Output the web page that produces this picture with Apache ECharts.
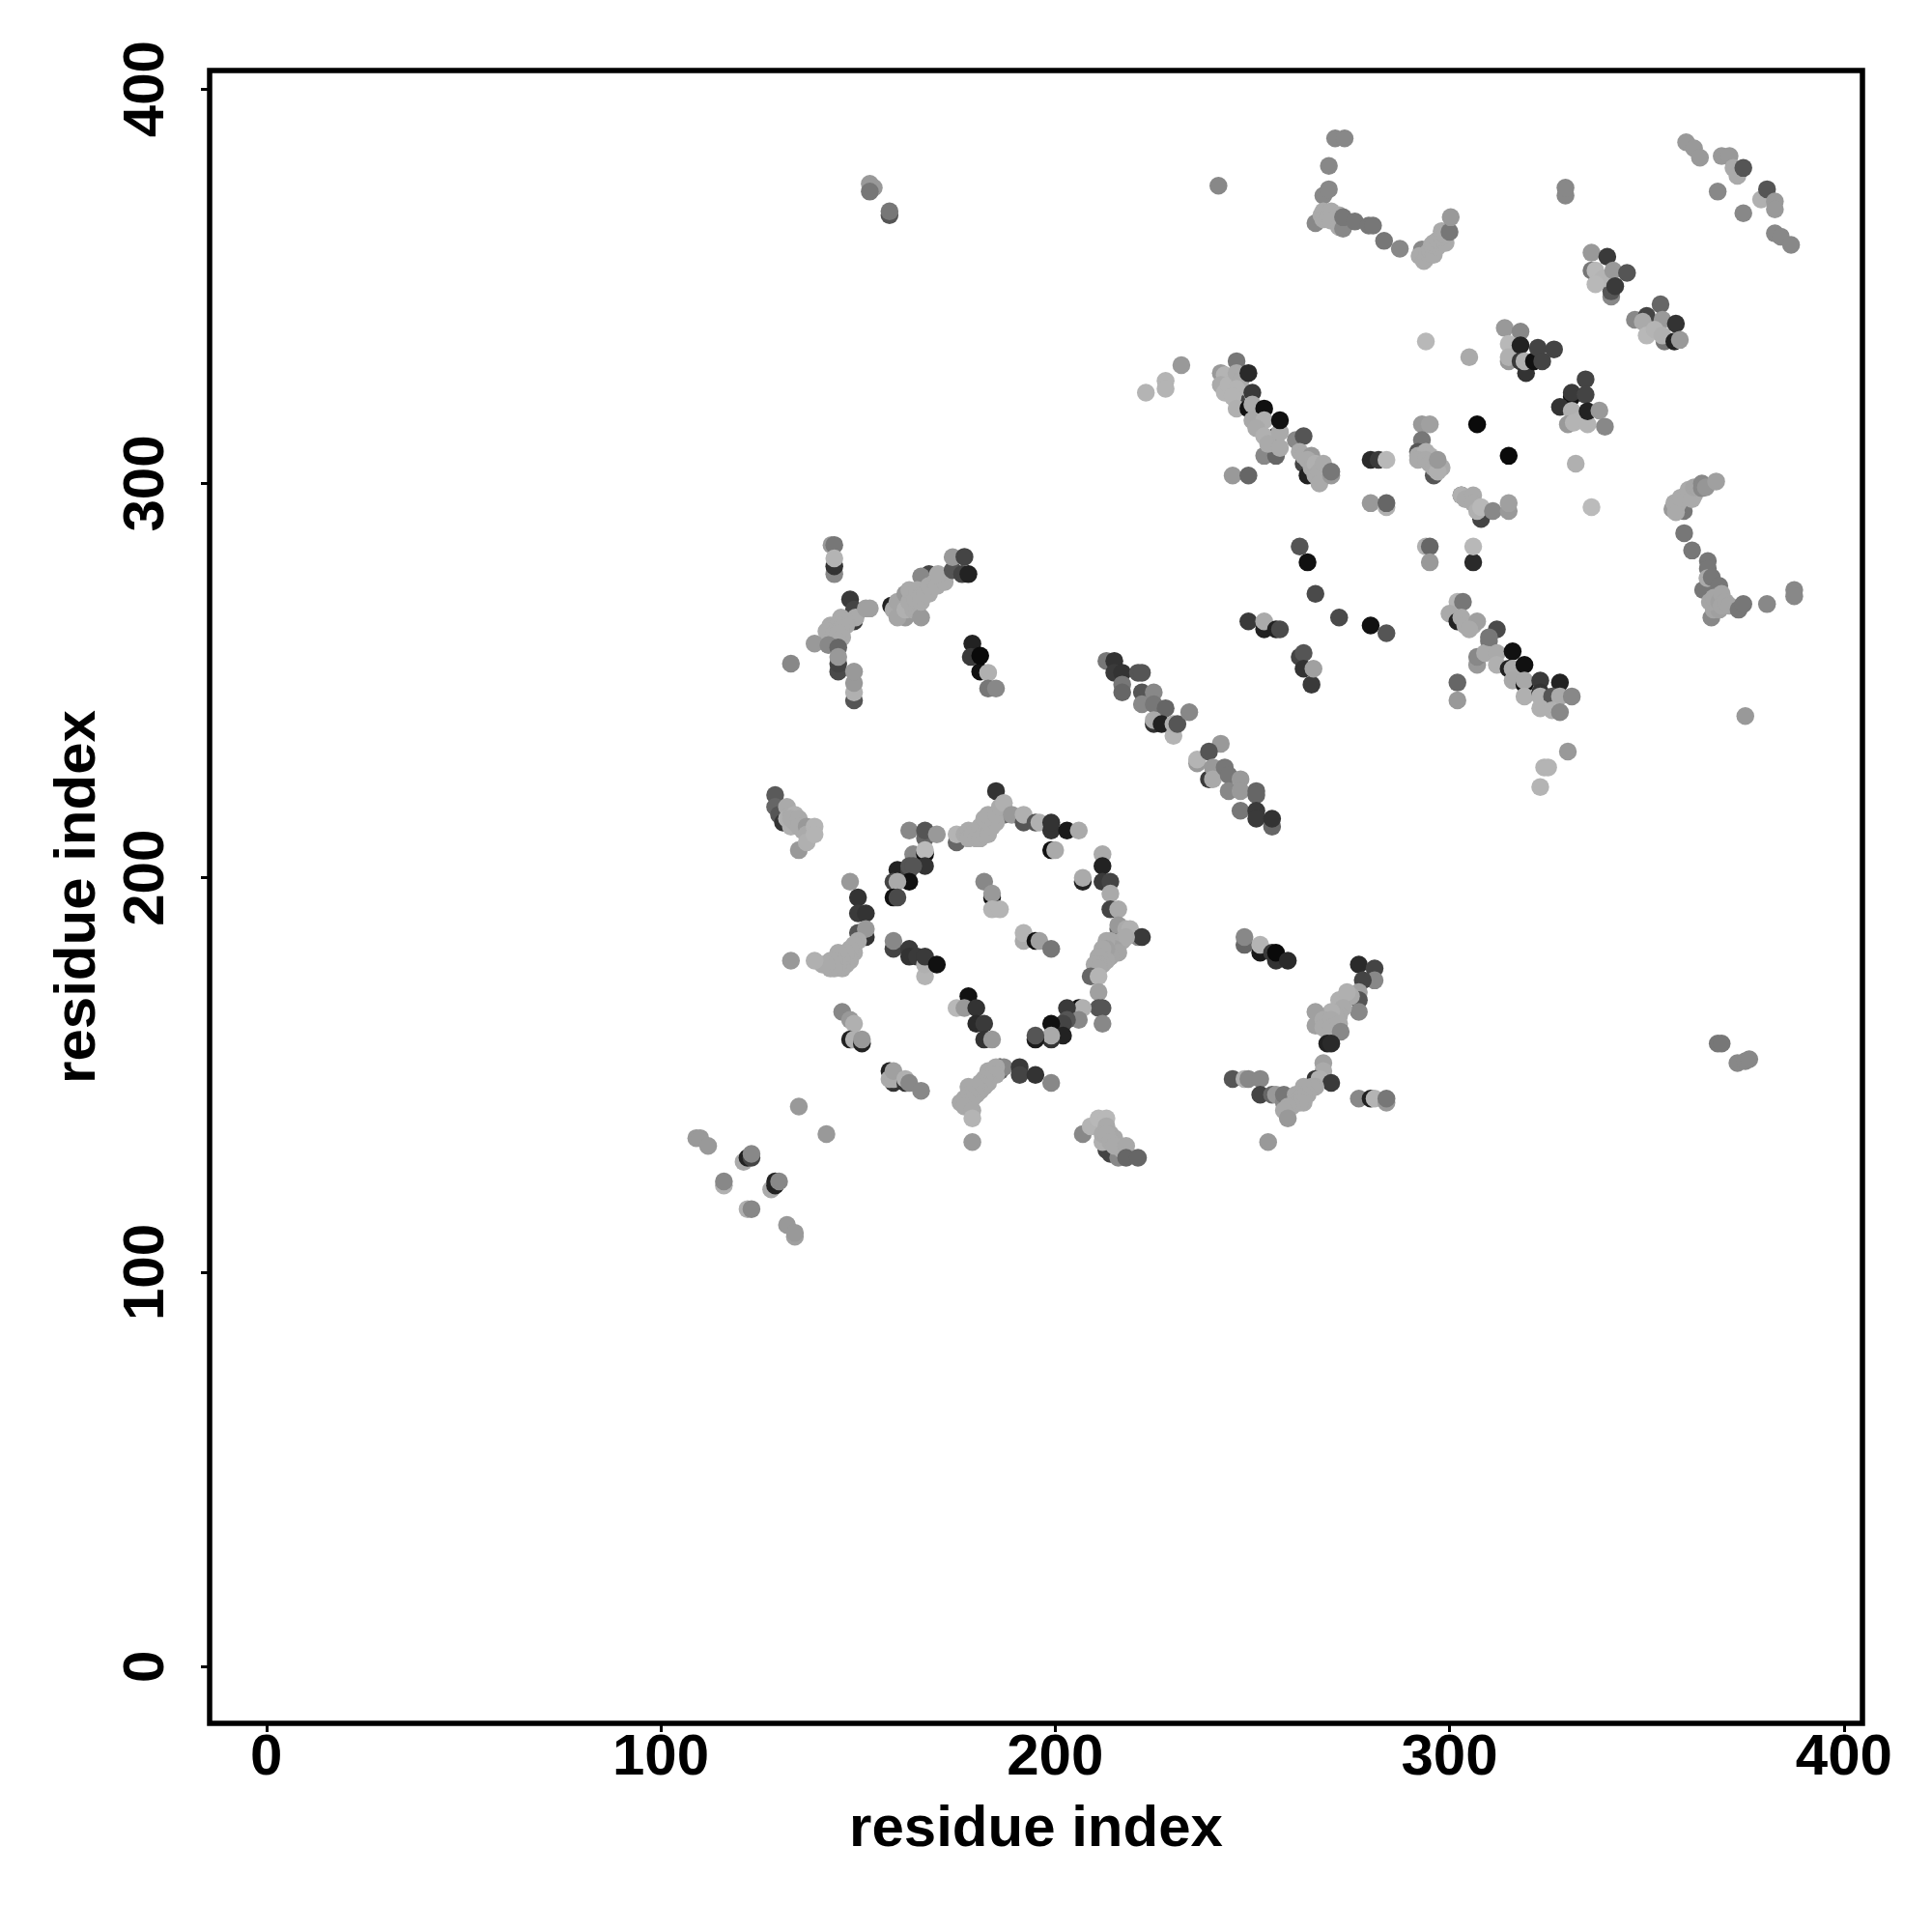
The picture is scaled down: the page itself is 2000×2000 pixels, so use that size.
<!DOCTYPE html>
<html><head><meta charset="utf-8">
<script src="https://cdn.jsdelivr.net/npm/echarts@6/dist/echarts.min.js"></script>
<style>html,body{margin:0;padding:0;background:#fff}#c{width:2000px;height:2000px}</style></head>
<body><div id="c"></div>
<script>
// each entry: [residue i, residue j, grey level]
const tickValues = [0, 100, 200, 300, 400];
const axisTitle = "residue index";
const lowerLeft = [[109,134,153],[110,134,153],[112,132,153],[135,142,153],[142,135,153],[121,128,170],[122,129,34],[123,129,68],[123,130,136],[116,122,176],[116,123,136],[128,121,170],[129,122,34],[129,123,34],[130,123,136],[122,116,176],[123,116,136],[132,112,153],[134,109,160],[134,110,153]];
const clusterA = [[129,221,90],[129,218,102],[130,216,85],[131,214,51],[132,218,170],[132,215,176],[133,216,170],[133,213,176],[134,216,176],[134,214,170],[133,215,170],[136,212,170],[135,215,170],[135,213,170],[135,207,153],[137,213,153],[137,211,170],[137,209,176],[139,213,180],[139,211,180]];
const ringUpperLeft = [[163,212,136],[167,210,102],[167,212,85],[170,211,153],[164,206,136],[167,206,17],[167,207,187],[167,203,51],[160,202,34],[163,202,68],[163,203,85],[164,203,85],[159,199,68],[163,199,17],[160,199,170],[159,195,17],[160,195,74]];
const ringTop = [[175,209,102],[185,222,51],[187,216,102],[175,211,180],[177,211,170],[178,212,170],[178,210,170],[179,211,170],[180,212,170],[180,210,170],[181,213,170],[181,210,170],[182,211,170],[183,211,170],[184,213,170],[185,214,170],[182,215,170],[183,216,170],[185,216,170],[186,218,170],[187,219,176],[189,216,153],[192,214,85],[192,216,176],[195,214,85],[196,214,176],[199,212,51],[199,214,51],[203,212,26],[206,212,170],[199,207,17],[200,207,170]];
const ringRight = [[212,206,170],[212,203,34],[207,199,34],[207,200,170],[212,199,58],[214,199,68],[214,196,170],[214,192,68],[216,192,170],[216,187,102],[216,188,153],[218,187,170],[221,185,136],[219,187,176],[222,185,58],[217,184,170],[216,183,168],[218,185,170],[214,184,168],[215,182,160],[216,181,165],[214,180,165],[213,184,168],[213,182,160],[212,182,168],[213,179,168],[211,180,168],[212,178,168],[211,178,168],[210,178,168],[211,177,168],[209,175,102],[211,175,180],[211,171,160],[211,167,85],[212,167,85],[212,163,136]];
const ringLowerRight = [[206,167,17],[207,167,176],[203,167,58],[206,164,136],[203,164,85],[202,163,68],[199,163,17],[202,160,34],[199,159,51],[199,160,170],[195,159,26],[195,160,85]];
const ringInner = [[182,199,136],[184,195,17],[184,196,153],[184,192,180],[186,192,180],[192,184,170],[192,186,180],[195,184,17],[196,184,160],[199,182,119]];
const ringLeft = [[148,199,153],[150,195,51],[150,191,58],[152,191,51],[150,186,85],[152,185,51],[152,187,153],[150,184,170],[149,183,170],[149,181,170],[148,182,170],[148,179,170],[147,181,170],[147,178,170],[146,179,170],[146,177,170],[145,181,170],[145,178,170],[144,179,170],[144,177,170],[143,177,170],[143,179,170],[142,178,170],[141,178,170],[139,179,176],[133,179,153]];
const ringCentre = [[159,182,68],[159,184,136],[163,182,58],[163,180,51],[165,180,58],[167,175,180],[167,178,176],[167,180,58],[170,178,17]];
const ringBelow = [[178,170,17],[175,167,184],[177,167,153],[180,167,51],[180,163,42],[182,163,58],[182,159,51],[184,159,153]];
const ringLowerLeft = [[146,166,136],[148,164,153],[149,163,176],[148,159,34],[149,159,176],[151,158,34],[151,159,153]];
const ringLower = [[158,151,34],[159,148,51],[158,149,170],[159,149,170],[159,151,160],[162,148,51],[162,149,176],[163,148,136],[166,146,136]];
const ringBottom = [[186,151,102],[186,152,34],[187,152,136],[191,152,58],[191,150,68],[195,150,51],[199,148,136],[183,151,168],[185,152,168],[185,150,168],[184,150,168],[183,148,168],[182,149,168],[181,148,168],[182,147,168],[181,146,168],[180,147,168],[180,145,168],[178,147,168],[179,144,168],[178,145,168],[177,144,168],[178,143,168],[176,143,168],[177,142,168],[179,141,168],[179,139,180],[179,133,153]];
const lowerRightTail = [[207,135,136],[209,137,180],[211,139,184],[213,139,184],[213,131,68],[214,130,68],[216,129,136],[212,133,176],[213,137,170],[214,135,168],[215,134,168],[216,132,168],[217,131,168],[212,135,170],[213,135,170],[214,133,170],[215,132,170],[218,132,168],[218,129,102],[221,129,102]];
const diagonalOne = [[213,255,119],[215,255,51],[215,252,58],[217,252,51],[217,249,119],[217,247,102],[221,252,85],[222,252,85],[222,247,85],[222,244,136],[225,247,136],[225,244,119],[228,243,102],[225,239,51],[225,240,170],[227,239,34],[230,236,180],[230,239,176],[231,239,85],[234,242,136]];
const diagonalTwo = [[242,234,153],[236,229,153],[236,230,180],[239,232,85],[239,225,58],[240,228,153],[240,225,170],[243,228,119],[244,226,119],[244,222,136],[247,225,153],[247,222,153],[251,222,102],[251,221,102],[247,217,119],[251,217,58],[251,215,58],[255,213,102],[255,215,51]];
const diagonalThree = [[302,249.5,102],[302,245,153],[307,254,153],[307,256,136],[310,260,119],[309,257,170],[312,257,170],[316,257.4,17],[312,254,176],[315,253,34],[316,253,170],[319,254,17],[316,250,168],[319,249,17],[319,250,168],[323,250,58],[319,246,176],[323,247,51],[323,246,176],[328,249.5,34],[326,246,85],[328,246,170],[331,246,136],[323,243,176],[326,242.5,176],[328,242,136],[330,232,153],[324,228,180],[325,228,180],[323,223,180]];
const upperDiagonal = [[302,270,180],[303.4,270,119],[300,267,170],[302,265,34],[303,266,170],[304,264,170],[306,264,170],[307,265,160],[305,263,170],[312,263,74],[310,261,119]];
const midDots = [[262,284,85],[264,280,17],[266,272,74],[272,266,74],[280,264,17],[284,262,85],[249,265,58],[253,263,34],[253,265,170],[256,263,34],[257,263,74],[262,256,68],[263,257,85],[263,253,51],[265,249,58],[265.5,253,160],[294,284,176],[295,284,102],[295,280,153],[306,280,42],[306,284,184]];
const lowerRight = [[248,183,102],[248,185,136],[252,181,26],[252,183,180],[255,181,58],[256,179,51],[256,181,10],[259,179,42],[277,178,42],[281,177,68],[281,174,136],[278,174,68],[277,171,160],[277,169,85],[277,166,136],[273,168,176],[272,169,176],[275,170,170],[274,171,176],[273,167,170],[272,165,170],[271,165,170],[270,166,176],[266,166,160],[266,162.5,160],[268,164,170],[268,162,170],[270,164,170],[270,162,170],[272,163,170],[272.4,161,136],[269,158,34],[270,158,42],[268,153,160],[268,151,170],[266,149,51],[267,149,176],[270,148,58],[245,149,85],[248,149,176],[249,149,136],[252,149,136],[252,145,68],[255,145,102],[256,145,153],[258,143,136],[258,145,119],[266,147,168],[265,147,168],[263,147,168],[264,145,168],[263,145,168],[261,145,168],[262,144,168],[263,143,168],[261,143,168],[262,143,168],[260,142,168],[259,142,168],[258,141,168],[259,139,153],[254,133,153],[277,144,136],[280,144,34],[281,144,180],[284,143,153],[284,144,119]];
const upperMiddle = [[223,323,180],[228,326,180],[228,324,180],[232,330,153],[242,328,153],[243,327.5,180],[242,325,170],[243,323,180],[244,325,180],[246,331,119],[246,328,170],[247,326,170],[249,328,42],[246,321,68],[246,324,180],[245,322,180],[246,319,176],[250,323,58],[249,319,17],[250,320,170],[253,319,17],[250,316,168],[253,316,176],[251,314,170],[253,307,136],[256,307,102],[256,312,17],[253,312,176],[254,310,170],[257,309,170],[257,313,170],[257,316,17],[245,302,153],[249,302,102],[261,311,136],[263,312,85],[263,305,68],[262,308,170],[263,307,170],[265,307,153],[264,302,34],[264,306,170],[265,304,170],[266,305,176],[266,302,170],[267,303,170],[268,305,170],[267,300,170],[270,302,153],[270,303,119]];
const upperCentre = [[280,306,42],[282,306,58],[284,306,184],[280,295,153],[284,294,176],[284,295,102],[293,315,153],[295,315,160],[293,311,119],[292,308,85],[292,307,170],[294,308,176],[295,307,176],[292,306,170],[296,302,85],[294,306,170],[295,305,170],[296,304,170],[298,304,170],[297,303,176],[297,306,153],[307,315,10],[315,307,10],[294,336,184],[305,332,170],[303,297,85],[303,297,176],[304,296,170],[306,297,170],[308,291,68],[306,295,170],[307,293,176],[308,294,184],[311,293,136],[315,293,153],[315,295,160],[332,305,176],[336,294,187]];
const topRightTail = [[360,386.5,153],[362,385,153],[363.5,382.6,153],[369,383,153],[371,383,153],[372,380,170],[373,378,170],[374.5,380,85],[368,374,136],[379,372,176],[380.5,374.6,85],[382.5,371.5,153],[382.5,369.5,153],[374.5,368.5,136],[382.5,363.4,136],[384,362.6,136],[386.6,360.5,136]];
const blobOne = [[336,358.5,153],[336,354,119],[340,357.5,58],[341,347.4,136],[341,348.7,85],[337,354,184],[339,352,180],[337,350.5,184],[341.5,354,153],[345,353.4,85],[342,350,58]];
const blobTwo = [[353.5,345.4,102],[347,341.5,136],[350,342.5,68],[349,341,170],[354,341.5,153],[354.5,336,119],[350,337.5,184],[352,339,180],[354,337.5,176],[357.4,340.5,51],[357,336,34],[358.4,336.4,153]];
const blobThree = [[314,339.4,153],[318,338.5,136],[315,335.4,184],[315,331,153],[315,332,176],[318,335,34],[318,331,58],[319.4,328,51],[319,331,176],[321.4,331,17],[322.4,334.4,68],[323.5,331,68],[326.5,334,68]];
const blobFour = [[334.5,326.4,68],[331,322,17],[331,323,58],[334.5,322.5,68],[328,319.4,51],[331,318.4,176],[333,316,180],[330,315,153],[331.5,315.4,180],[335,315,180],[335,318.3,34],[338,318.5,153],[339.4,314.4,136]];
const topGroup = [[241.4,375.5,136],[271,387.5,136],[273.4,387.5,136],[269.4,380.5,136],[268,373,136],[269.4,374.6,136],[266,366,136],[267.5,368,170],[268,369,170],[270,369,170],[272,368,170],[268,367,170],[269,367,170],[271,367,170],[270,366.6,170],[272,365,170],[273,364.6,136],[273,367.5,119],[276,366.4,119],[279.5,365.4,119],[280.6,365.4,119],[283.4,361.5,119],[287.4,359.5,136],[293,359.3,136],[292.4,357.7,170],[293.5,356.4,170],[294,357,170],[294.5,358.5,170],[295,359,170],[296,358,170],[295.5,360.5,170],[297,360,170],[296,361,170],[297,361.7,170],[299,361,170],[298,362.6,170],[298,364,170],[299,363,170],[300,363.8,119],[300.3,367.5,153],[329.4,373,136],[329.4,375,136]];
const leftCross = [[143.3,284.4,153],[144,284.4,119],[144,277,136],[144,279,51],[144,281,180],[148,270.6,58],[149,268,68],[149,265,58],[149.4,266,170],[152,268.3,160],[153,268.3,160],[145.7,266,170],[147,265,170],[147,264,170],[143,264,170],[144,264,170],[145,264,170],[145.7,263.3,170],[142,262.5,170],[144,262,170],[145,262,170],[146,261,170],[139,259.4,153],[143,260,170],[145,260,170],[142.5,259,136],[145,258.4,102],[145,252.3,74],[145,254.3,68],[145,256,153],[149,245,85],[149,247,176],[149,249.4,153],[149,252.3,153],[133,254.3,136]];
const rightOfCross = [[158.4,269,34],[159,268,170],[160,270,165],[162,272,153],[162,266,153],[160,266,165],[162,268,176],[164,268,170],[165,268,170],[166,266,153],[168,277,68],[166,276.4,136],[163,270,170],[163,273,170],[164.5,270.6,170],[165,273,170],[166,270,170],[166,271.5,170],[168,272,170],[167,272,170],[168,274,170],[169.5,275,170],[170,274,170],[171,276,170],[172,275,170],[170.3,277,170],[174,278,85],[174,281.3,153],[176.4,277,68],[177,281.4,68],[178,277,34],[179,259.4,34],[178.6,256,58],[181,252.3,17],[181,256.3,10],[183,252,176],[183,248,119],[185,248,136]];
const rightArc = [[359.4,293,119],[356.5,293.5,153],[357.4,292.7,170],[357,295,170],[358,295,170],[358.6,296.4,170],[360,297,170],[360.6,298.4,170],[362,297,170],[361.5,296,170],[362,299,165],[363,299,165],[364,298.8,136],[364,300,136],[365,299,150],[367.6,300.5,160],[359.5,287.4,119],[361.5,283,119],[365.5,280.3,119],[365.5,278.4,119],[364.3,273,119],[365.4,276,170],[366.5,276.2,119],[368.4,274,119],[366.4,266,136],[367,268,165],[368.4,268,160],[366,270,165],[367,271,165],[368.4,270,160],[369,272,165],[369,269,165],[370,270,165],[371,269,165],[373.3,268,119],[374.5,269.4,119],[380.5,269.4,136],[387.4,273,136],[387.4,271.4,136]];
const scattered = [[375,241,153],[368,158,119],[369,158,119],[373,153,136],[375,153.5,136],[376,154,136],[153,376,153],[154,375,153],[153,374,119],[158,368,85],[158,369,119]];

const groups = [lowerLeft, clusterA, ringUpperLeft, ringTop, ringRight, ringLowerRight, ringInner, ringLeft, ringCentre, ringBelow, ringLowerLeft, ringLower, ringBottom, lowerRightTail, diagonalOne, diagonalTwo, diagonalThree, upperDiagonal, midDots, lowerRight, upperMiddle, upperCentre, topRightTail, blobOne, blobTwo, blobThree, blobFour, topGroup, leftCross, rightOfCross, rightArc, scattered];
const points = groups.flat();

const FONT = '"Liberation Sans"';
const chart = echarts.init(document.getElementById('c'), null, {renderer:'canvas'});
const axis = (extra) => Object.assign({
  type:'value', min:-14.4, max:404.7, name:axisTitle, nameLocation:'middle',
  nameTextStyle:{fontFamily:FONT,fontWeight:'bold',fontSize:60,color:'#000'},
  splitLine:{show:false}, axisLine:{show:false,onZero:false},
  axisTick:{show:true,length:9,inside:false,lineStyle:{color:'#000',width:3},customValues:tickValues},
  axisLabel:{fontFamily:FONT,fontWeight:'bold',fontSize:60,color:'#000',customValues:tickValues,showMinLabel:true,showMaxLabel:true}
}, extra);
const xa = axis({nameGap:80}); xa.axisLabel.margin=6;
const ya = axis({nameGap:106,nameRotate:90}); ya.axisLabel.margin=35; ya.axisLabel.rotate=90;
chart.setOption({
  animation:false, backgroundColor:'#fff',
  grid:{left:217,top:73,width:1711,height:1711,show:true,borderColor:'#000',borderWidth:5.5,backgroundColor:'transparent'},
  xAxis:xa, yAxis:ya,
  series:[{type:'scatter',symbol:'circle',symbolSize:18.5,data:points,encode:{x:0,y:1},clip:false,
    silent:true,
    itemStyle:{opacity:1,color:p=>{const g=p.value[2];return `rgb(${g},${g},${g})`;}}}]
});
</script></body></html>
